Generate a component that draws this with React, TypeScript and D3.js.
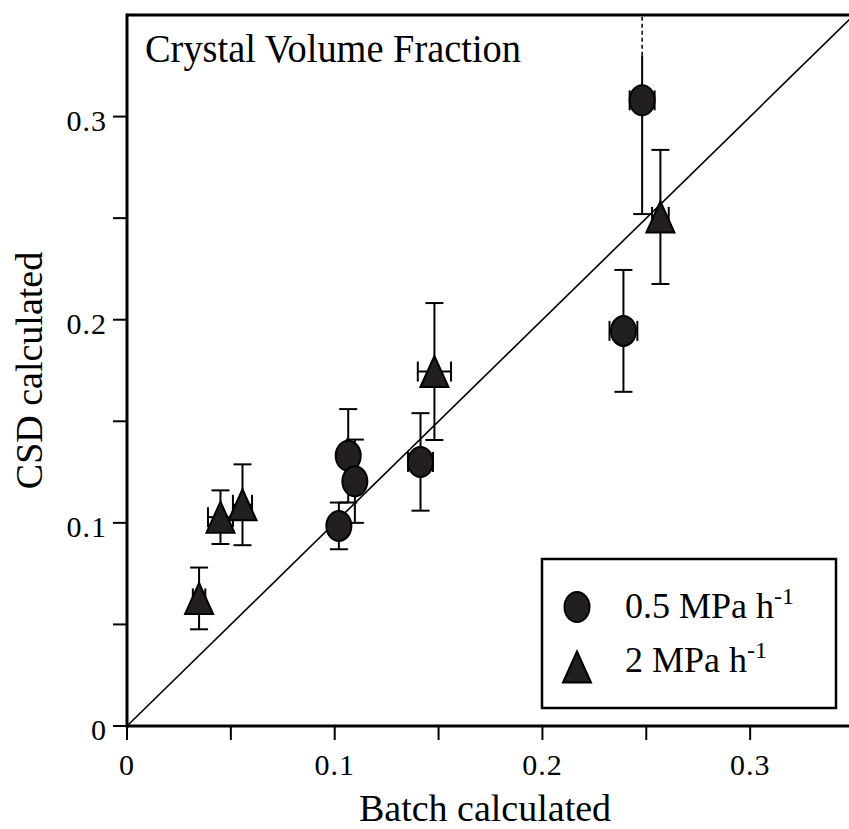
import React from "react";
import * as d3 from "d3";

// ---- data ----
const SERIES_NAMES = ["0.5 MPa h", "2 MPa h"];

const slowX = [0.248, 0.239, 0.1065, 0.1097, 0.102, 0.1413];
const slowY = [0.308, 0.1945, 0.133, 0.1205, 0.0985, 0.130];
const slowYErr = [0.056, 0.030, 0.023, 0.0205, 0.0115, 0.024];
const slowXErr = [0.006, 0.0067, 0.003, 0.003, 0.003, 0.006];

const fastX = [0.0347, 0.045, 0.0556, 0.148, 0.2568];
const fastY = [0.0628, 0.1028, 0.1089, 0.1745, 0.2506];
const fastYErr = [0.0152, 0.0132, 0.0199, 0.0337, 0.033];
const fastXErr = [0.003, 0.006, 0.0046, 0.008, 0.004];

const xTickValues = [0, 0.05, 0.1, 0.15, 0.2, 0.25, 0.3];
const yTickValues = [0, 0.05, 0.1, 0.15, 0.2, 0.25, 0.3];
const labelTicks = [0, 0.1, 0.2, 0.3];
const DOMAIN_MAX = 0.35;
const DASH_FROM = 0.33;

const W = 849;
const H = 829;
const FONT = "Liberation Serif";
const FILL = "#231f20";

export default function App() {
  const x = d3.scaleLinear().domain([0, DOMAIN_MAX]).range([127, 854]);
  const y = d3.scaleLinear().domain([0, DOMAIN_MAX]).range([726, 15]);

  const fmt = (v: number) => (v === 0 ? "0" : d3.format(".1f")(v));

  const slow = slowX.map((v, i) => ({ x: v, y: slowY[i], ey: slowYErr[i], ex: slowXErr[i] }));
  const fast = fastX.map((v, i) => ({ x: v, y: fastY[i], ey: fastYErr[i], ex: fastXErr[i] }));

  const CAP = 9;
  const XCAP = 10;
  const RX = 12.5;
  const RY = 15;
  const TW = 14;
  const TH = 15.5;
  const ts = { fontFamily: FONT };

  const triPath = (cx: number, cy: number) =>
    `M${cx},${cy - TH}L${cx + TW},${cy + TH}L${cx - TW},${cy + TH}Z`;

  const errBars = (d: { x: number; y: number; ey: number; ex: number }, key: string) => {
    const cx = x(d.x);
    const cy = y(d.y);
    const top = Math.min(d.y + d.ey, DOMAIN_MAX);
    const clipped = d.y + d.ey > DOMAIN_MAX;
    const yTopSolid = clipped ? DASH_FROM : top;
    const yb = y(d.y - d.ey);
    const x0 = x(d.x - d.ex);
    const x1 = x(d.x + d.ex);
    return (
      <g key={key} stroke="#000" strokeWidth={2} fill="none">
        <line x1={cx} x2={cx} y1={y(yTopSolid)} y2={yb} />
        {clipped ? (
          <line x1={cx} x2={cx} y1={y(DASH_FROM)} y2={y(DOMAIN_MAX)} strokeDasharray="4,3" strokeWidth={1.5} />
        ) : (
          <line x1={cx - CAP} x2={cx + CAP} y1={y(top)} y2={y(top)} />
        )}
        <line x1={cx - CAP} x2={cx + CAP} y1={yb} y2={yb} />
        <line x1={x0} x2={x1} y1={cy} y2={cy} />
        <line x1={x0} x2={x0} y1={cy - XCAP} y2={cy + XCAP} />
        <line x1={x1} x2={x1} y1={cy - XCAP} y2={cy + XCAP} />
      </g>
    );
  };

  return (
    <svg
      width={W}
      height={H}
      style={{ position: "absolute", left: 0, top: 0, background: "#fff", fontFamily: FONT }}
    >
      <rect x={0} y={0} width={W} height={H} fill="#fff" />

      {/* 1:1 line */}
      <line x1={x(0)} y1={y(0)} x2={x(DOMAIN_MAX)} y2={y(DOMAIN_MAX)} stroke="#000" strokeWidth={1.6} />

      {/* axes */}
      <line x1={x(0)} x2={x(DOMAIN_MAX)} y1={y(DOMAIN_MAX)} y2={y(DOMAIN_MAX)} stroke="#000" strokeWidth={3} />
      <line x1={x(0)} x2={x(0)} y1={y(DOMAIN_MAX) - 1.5} y2={y(0) + 1.5} stroke="#000" strokeWidth={3} />
      <line x1={x(0)} x2={x(DOMAIN_MAX)} y1={y(0)} y2={y(0)} stroke="#000" strokeWidth={3} />

      {xTickValues.map((t) => (
        <line key={"xt" + t} x1={x(t)} x2={x(t)} y1={y(0)} y2={y(0) + 14} stroke="#000" strokeWidth={2} />
      ))}
      {yTickValues.map((t) => (
        <line key={"yt" + t} x1={x(0) - 14} x2={x(0)} y1={y(t)} y2={y(t)} stroke="#000" strokeWidth={2} />
      ))}
      {labelTicks.map((t) => (
        <text key={"xl" + t} style={ts} x={x(t)} y={775} textAnchor="middle" fontSize={30} fill="#000" letterSpacing={1}>
          {fmt(t)}
        </text>
      ))}
      {labelTicks.map((t) => (
        <text key={"yl" + t} style={ts} x={107} y={y(t) + 14} textAnchor="end" fontSize={30} fill="#000" letterSpacing={1}>
          {fmt(t)}
        </text>
      ))}

      {/* axis titles */}
      <text style={ts} x={485} y={821} textAnchor="middle" fontSize={38} fill="#000">
        Batch calculated
      </text>
      <text style={ts} transform={`translate(42,${(y(0) + y(DOMAIN_MAX)) / 2}) rotate(-90)`} textAnchor="middle" fontSize={38} fill="#000">
        CSD calculated
      </text>

      {/* panel title */}
      <text style={ts} x={145} y={62} fontSize={40} fill="#000" textLength={376} lengthAdjust="spacingAndGlyphs">
        Crystal Volume Fraction
      </text>

      {/* error bars */}
      {slow.map((d, i) => errBars(d, "se" + i))}
      {fast.map((d, i) => errBars(d, "fe" + i))}

      {/* markers */}
      {slow.map((d, i) => (
        <ellipse key={"sm" + i} cx={x(d.x)} cy={y(d.y)} rx={RX} ry={RY} fill={FILL} stroke="#000" strokeWidth={2} />
      ))}
      {fast.map((d, i) => (
        <path key={"fm" + i} d={triPath(x(d.x), y(d.y))} fill={FILL} stroke="#000" strokeWidth={2} strokeLinejoin="miter" />
      ))}

      {/* legend */}
      <rect x={542} y={559} width={294} height={149} fill="#fff" stroke="#000" strokeWidth={2.5} />
      <ellipse cx={577} cy={607} rx={RX} ry={RY} fill={FILL} stroke="#000" strokeWidth={2} />
      <path d={triPath(577, 667)} fill={FILL} stroke="#000" strokeWidth={2} />
      <text style={ts} x={625} y={618} fontSize={36} fill="#000">
        {SERIES_NAMES[0]}
        <tspan fontSize={24} dy={-14}>-1</tspan>
      </text>
      <text style={ts} x={625} y={672} fontSize={36} fill="#000">
        {SERIES_NAMES[1]}
        <tspan fontSize={24} dy={-14}>-1</tspan>
      </text>
    </svg>
  );
}
